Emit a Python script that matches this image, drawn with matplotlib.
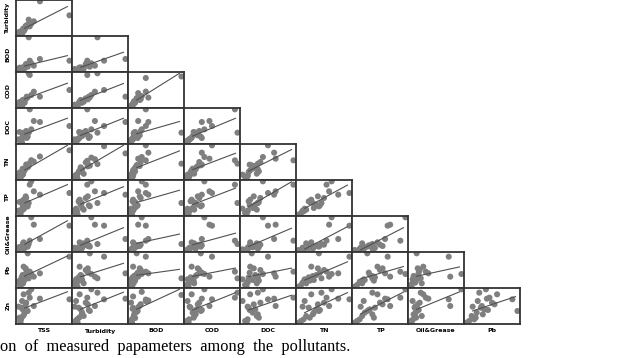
import numpy as np
import matplotlib
matplotlib.use("Agg")
import matplotlib.pyplot as plt

names = ["TSS", "Turbidity", "BOD", "COD", "DOC", "TN", "TP", "Oil&Grease", "Pb", "Zn"]

# normalised sample values (one list per parameter)
tss  = [1.00, 0.42, 0.30, 0.20, 0.22, 0.10, 0.05, 0.08, 0.12, 0.15, 0.18, 0.03, 0.06, 0.09, 0.14, 0.25, 0.04, 0.11, 0.07, 0.16, 0.02, 0.00]
turb = [0.58, 1.00, 0.40, 0.45, 0.25, 0.10, 0.05, 0.12, 0.15, 0.22, 0.30, 0.02, 0.08, 0.18, 0.26, 0.33, 0.06, 0.14, 0.03, 0.28, 0.09, 0.00]
bod  = [0.30, 0.35, 0.15, 1.00, 0.30, 0.05, 0.02, 0.10, 0.08, 0.20, 0.12, 0.00, 0.04, 0.06, 0.18, 0.22, 0.03, 0.07, 0.01, 0.14, 0.09, 0.05]
cod  = [0.50, 0.30, 0.45, 1.00, 0.95, 0.10, 0.05, 0.20, 0.12, 0.25, 0.28, 0.00, 0.08, 0.15, 0.22, 0.35, 0.04, 0.18, 0.02, 0.30, 0.14, 0.06]
doc  = [0.50, 0.62, 0.65, 0.30, 1.00, 0.15, 0.10, 0.25, 0.20, 0.35, 0.18, 0.05, 0.12, 0.28, 0.22, 0.40, 0.08, 0.30, 0.00, 0.14, 0.32, 0.10]
tn   = [1.00, 0.78, 0.60, 0.45, 0.55, 0.25, 0.10, 0.35, 0.30, 0.50, 0.40, 0.05, 0.20, 0.15, 0.38, 0.65, 0.00, 0.28, 0.12, 0.42, 0.22, 0.08]
tp   = [0.65, 0.60, 0.70, 0.35, 0.90, 0.45, 0.10, 0.30, 0.20, 0.50, 0.25, 0.05, 0.40, 0.15, 0.55, 1.00, 0.00, 0.35, 0.18, 0.28, 0.38, 0.12]
og   = [0.75, 0.35, 0.78, 0.20, 0.30, 0.25, 0.05, 0.15, 0.10, 0.18, 0.12, 0.00, 0.08, 0.22, 0.14, 1.00, 0.02, 0.06, 0.04, 0.16, 0.11, 0.09]
pb   = [0.90, 0.40, 0.30, 0.25, 0.45, 0.60, 0.15, 0.35, 0.20, 0.50, 1.00, 0.05, 0.28, 0.10, 0.55, 0.38, 0.00, 0.32, 0.22, 0.42, 0.18, 0.12]
zn   = [0.70, 0.72, 0.50, 0.90, 0.75, 0.85, 0.10, 0.40, 0.30, 0.60, 0.35, 0.05, 0.45, 0.20, 0.55, 1.00, 0.00, 0.25, 0.65, 0.38, 0.15, 0.48]

data = [tss, turb, bod, cod, doc, tn, tp, og, pb, zn]
caption = "on  of  measured  papameters  among  the  pollutants."

W, H = 625, 358
fig = plt.figure(figsize=(W / 100, H / 100), dpi=100)

x0, cw, ch = 16, 56, 36
for i in range(1, 10):          # rows: Turbidity .. Zn
    for j in range(i):          # columns: TSS .. Pb
        left = (x0 + cw * j) / W
        bottom = 1 - ch * i / H
        ax = fig.add_axes([left, bottom, cw / W, ch / H])
        x = np.array(data[j])
        y = np.array(data[i])
        ax.scatter(x, y, s=19, color="#7f7f7f", edgecolors="none", zorder=2)
        k, b = np.polyfit(x, y, 1)
        xs = np.array([x.min() + 0.12 * np.ptp(x), x.max() - 0.04 * np.ptp(x)])
        ax.plot(xs, k * xs + b, color="#505050", lw=0.8, zorder=3)
        ax.margins(x=0.05, y=0.04)
        ax.set_xticks([])
        ax.set_yticks([])
        for sp in ax.spines.values():
            sp.set_linewidth(1.3)
            sp.set_color("#333333")
        if j == 0:
            fig.text(8 / W, 1 - (ch * (i - 1) + ch / 2) / H, names[i], rotation=90,
                     ha="center", va="center", fontsize=4.5, fontweight="bold")
        if i == 9:
            fig.text((x0 + cw * j + cw / 2) / W, 1 - 331 / H, names[j],
                     ha="center", va="center", fontsize=4.5, fontweight="bold")

fig.text(0, 1 - 347 / H, caption, ha="left", va="center", fontsize=11.8,
         family="Liberation Serif")

fig.savefig("out.png", dpi=100)
